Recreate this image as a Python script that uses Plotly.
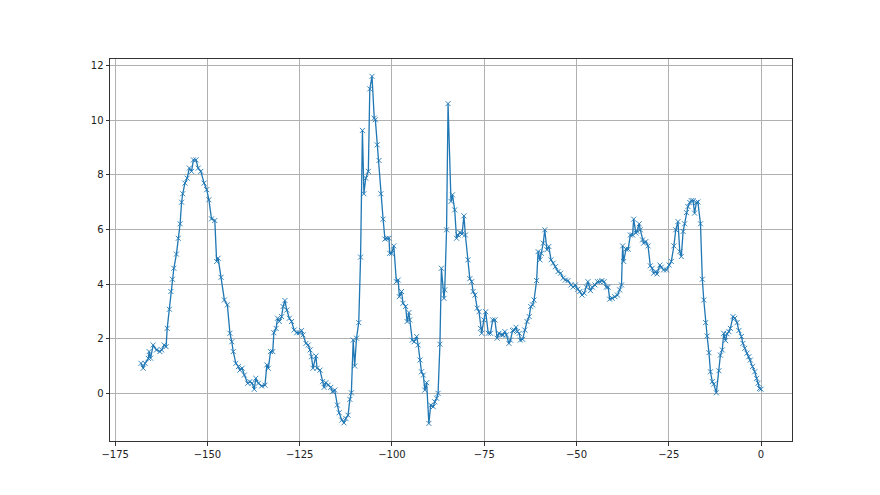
import plotly.graph_objects as go

x_vals = [
    -168.0, -167.4, -166.9, -166.0, -165.8, -165.4, -164.7, -163.8, -162.9, -162.4,
    -161.7, -161.2, -160.9, -160.3, -159.9, -159.5, -159.1, -158.4, -157.9, -157.4,
    -157.0, -156.7, -156.1, -155.5, -154.9, -154.3, -153.8, -153.1, -152.5, -151.8,
    -150.9, -150.2, -149.6, -148.9, -148.0, -147.5, -147.1, -146.3, -145.4, -144.6,
    -143.9, -143.4, -143.0, -142.3, -141.6, -141.2, -140.6, -140.0, -139.1, -138.5,
    -137.9, -137.3, -136.9, -136.2, -135.3, -134.4, -133.9, -133.5, -132.9, -132.3,
    -132.0, -131.4, -131.0, -130.5, -129.9, -129.5, -129.0, -128.5, -127.8, -127.2,
    -126.5, -125.8, -125.1, -124.5, -124.1, -123.3, -122.7, -122.2, -121.8, -121.4,
    -120.6, -120.3, -119.5, -118.8, -118.4, -117.9, -117.3, -116.6, -116.1, -115.5,
    -114.8, -114.3, -113.6, -113.0, -112.5, -111.9, -111.4, -111.0, -110.5, -110.1,
    -109.6, -109.0, -108.5, -108.0, -107.6, -107.1, -106.4, -106.0, -105.4, -104.8,
    -104.5, -104.0, -103.5, -103.0, -102.4, -101.9, -101.3, -100.8, -100.6, -100.1,
    -99.5, -98.8, -98.3, -98.0, -97.4, -97.0, -96.3, -95.9, -95.4, -95.2,
    -94.5, -94.0, -93.3, -92.9, -92.4, -92.0, -91.5, -91.1, -90.6, -90.0,
    -89.5, -88.8, -88.4, -87.9, -87.5, -87.0, -86.6, -85.9, -85.7, -85.2,
    -84.8, -84.0, -83.6, -83.0, -82.5, -82.1, -81.6, -81.0, -80.5, -80.1,
    -79.4, -78.9, -78.4, -78.0, -77.5, -76.9, -76.4, -76.0, -75.7, -75.1,
    -74.6, -73.9, -73.3, -72.7, -72.1, -71.5, -71.0, -70.3, -69.9, -69.4,
    -69.0, -68.3, -67.9, -67.3, -66.9, -66.4, -66.0, -65.5, -65.2, -64.6,
    -64.0, -63.4, -62.8, -62.4, -61.9, -61.5, -60.8, -60.4, -59.9, -59.5,
    -59.0, -58.6, -58.0, -57.5, -56.9, -56.3, -55.7, -55.0, -54.3, -53.6,
    -53.0, -52.3, -51.5, -50.9, -50.3, -49.7, -49.1, -48.5, -47.9, -47.3,
    -46.9, -46.2, -45.7, -45.0, -44.3, -43.7, -43.1, -42.5, -41.9, -41.4,
    -41.0, -40.3, -39.6, -38.9, -38.3, -37.8, -37.5, -37.2, -36.6, -36.0,
    -35.4, -34.8, -34.5, -33.9, -33.6, -33.0, -32.7, -32.1, -31.8, -31.2,
    -30.6, -30.0, -29.5, -29.1, -28.5, -28.2, -27.4, -27.0, -26.4, -25.6,
    -24.9, -24.3, -23.6, -23.1, -22.5, -22.0, -21.6, -21.1, -20.7, -20.2,
    -19.8, -19.3, -18.9, -18.4, -18.0, -17.5, -17.1, -16.4, -15.9, -15.5,
    -15.0, -14.6, -14.1, -13.7, -13.2, -12.8, -12.1, -11.4, -11.0, -10.5,
    -10.1, -9.6, -9.2, -8.7, -8.3, -7.6, -7.1, -6.5, -6.0, -5.3,
    -4.9, -4.4, -3.8, -3.3, -2.9, -2.3, -1.7, -1.2, -0.8, -0.4,
    0.0,
]

y_vals = [
    1.10, 0.92, 1.10, 1.28, 1.53, 1.29, 1.77, 1.59, 1.53, 1.59,
    1.77, 1.71, 2.38, 3.08, 3.73, 4.18, 4.58, 5.10, 5.68, 6.21,
    7.00, 7.31, 7.70, 7.88, 8.25, 8.13, 8.55, 8.55, 8.25, 8.13,
    7.70, 7.46, 7.09, 6.39, 6.33, 4.83, 4.95, 4.25, 3.42, 3.24,
    2.20, 1.89, 1.53, 1.10, 0.98, 0.85, 0.92, 0.67, 0.37, 0.43,
    0.37, 0.15, 0.55, 0.37, 0.27, 0.30, 1.04, 0.92, 1.53, 1.53,
    2.22, 2.38, 2.75, 2.63, 2.81, 3.18, 3.40, 3.05, 2.75, 2.63,
    2.32, 2.22, 2.22, 2.30, 2.14, 1.83, 1.77, 1.59, 1.34, 0.92,
    1.37, 0.92, 0.85, 0.43, 0.22, 0.39, 0.30, 0.22, 0.06, 0.12,
    -0.43, -0.71, -0.98, -1.08, -0.92, -0.80, -0.22, 0.02, 1.95, 1.00,
    2.02, 2.59, 4.99, 9.63, 7.31, 7.88, 8.13, 11.15, 11.61, 10.08,
    10.02, 9.10, 8.53, 7.31, 6.38, 5.65, 5.68, 5.68, 5.13, 5.13,
    5.40, 4.09, 4.15, 3.54, 3.73, 3.30, 3.18, 2.63, 2.96, 2.69,
    1.95, 1.89, 2.08, 1.77, 1.22, 0.79, 0.67, 0.12, 0.39, -1.10,
    -0.43, -0.49, -0.31, -0.18, 0.00, 1.80, 4.58, 3.48, 3.79, 5.99,
    10.61, 7.03, 7.27, 6.72, 5.68, 5.80, 5.89, 5.84, 6.50, 5.80,
    4.89, 4.20, 4.09, 3.73, 3.60, 3.12, 2.99, 2.38, 2.20, 2.69,
    2.99, 2.20, 2.20, 2.69, 2.69, 2.02, 2.20, 2.14, 2.14, 2.26,
    2.14, 1.83, 1.95, 2.30, 2.32, 2.42, 2.26, 2.20, 1.95, 1.98,
    2.32, 2.63, 2.81, 3.18, 3.24, 3.42, 4.13, 5.19, 4.89, 5.13,
    5.50, 5.99, 5.26, 5.38, 4.89, 4.77, 4.64, 4.46, 4.40, 4.22,
    4.15, 4.13, 3.97, 3.89, 3.97, 3.81, 3.73, 3.60, 3.67, 3.89,
    4.09, 3.76, 3.89, 3.97, 4.09, 4.09, 4.13, 4.09, 3.89, 3.89,
    3.45, 3.48, 3.54, 3.60, 3.79, 3.97, 5.40, 4.83, 5.28, 5.28,
    5.80, 5.80, 6.38, 5.87, 5.93, 6.21, 5.99, 5.62, 5.50, 5.56,
    5.40, 4.67, 4.58, 4.40, 4.46, 4.37, 4.70, 4.62, 4.52, 4.52,
    4.70, 4.83, 5.40, 5.99, 6.29, 5.19, 5.01, 5.93, 6.21, 6.62,
    6.84, 6.99, 7.06, 7.06, 6.60, 6.99, 7.01, 6.21, 4.18, 3.42,
    2.59, 2.10, 1.49, 0.79, 0.43, 0.34, 0.02, 0.83, 1.40, 1.59,
    2.20, 1.93, 2.18, 2.26, 2.38, 2.81, 2.75, 2.59, 2.30, 2.08,
    1.83, 1.65, 1.47, 1.34, 1.22, 0.98, 0.79, 0.55, 0.37, 0.18,
    0.15,
]

x_ticks = [-175, -150, -125, -100, -75, -50, -25, 0]
y_ticks = [0, 2, 4, 6, 8, 10, 12]

fig = go.Figure()
fig.add_trace(go.Scatter(
    x=x_vals, y=y_vals, mode="lines+markers",
    line=dict(color="#1f77b4", width=1.3),
    marker=dict(symbol="x-thin", size=5, line=dict(color="#1f77b4", width=0.9)),
    showlegend=False,
))

axis_common = dict(
    showgrid=True, gridcolor="#b0b0b0", gridwidth=0.8,
    showline=True, linecolor="#333333", linewidth=1, mirror=True,
    ticks="outside", ticklen=3.5, tickwidth=0.8, tickcolor="#333333",
    zeroline=False,
    tickfont=dict(family="DejaVu Sans", size=10, color="#222222"),
)

fig.update_layout(
    width=864, height=479,
    margin=dict(l=102, r=80, t=51, b=46),
    paper_bgcolor="white", plot_bgcolor="white",
    xaxis=dict(range=[-176.4, 8.4], tickvals=x_ticks, **axis_common),
    yaxis=dict(range=[-1.745, 12.245], tickvals=y_ticks, **axis_common),
)

fig.write_html("out.html")
